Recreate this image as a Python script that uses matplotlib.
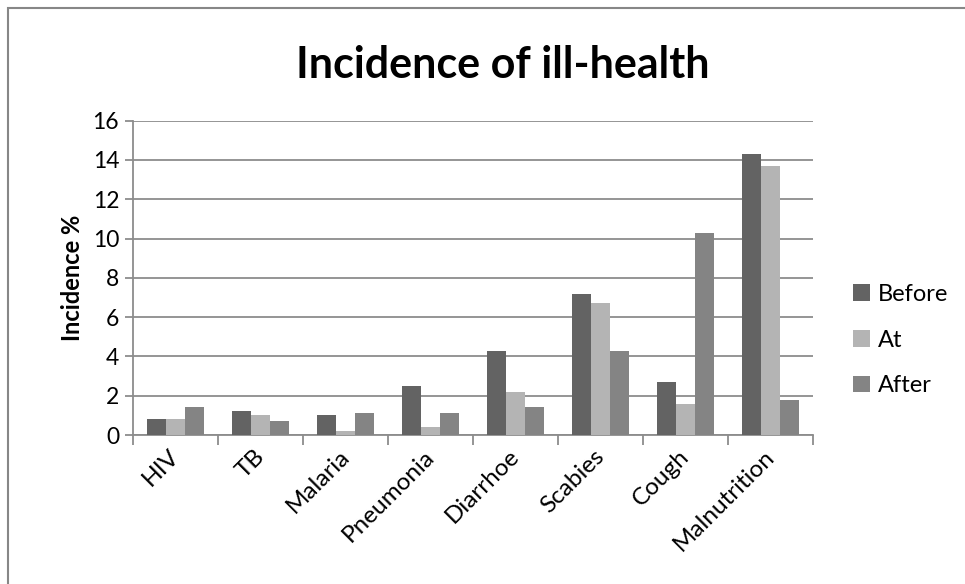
import numpy as np
import matplotlib.pyplot as plt
from matplotlib.patches import Rectangle

categories = ['HIV', 'TB', 'Malaria', 'Pneumonia', 'Diarrhoe', 'Scabies', 'Cough', 'Malnutrition']
before = [0.8, 1.2, 1.0, 2.5, 4.3, 7.2, 2.7, 14.3]
at = [0.8, 1.0, 0.2, 0.4, 2.2, 6.7, 1.6, 13.7]
after = [1.4, 0.7, 1.1, 1.1, 1.4, 4.3, 10.3, 1.8]
series_names = ['Before', 'At', 'After']
colors = ['#636363', '#b4b4b4', '#848484']

plt.rcParams['font.family'] = ['Lato', 'DejaVu Sans']

W, H = 965, 584
fig = plt.figure(figsize=(W / 100, H / 100), dpi=100)

# outer chart border (runs off the right/bottom edge)
fig.patches.append(Rectangle((8 / W, -0.1), 1.2, (H - 8) / H + 0.1,
                             transform=fig.transFigure, fill=False,
                             edgecolor='#878787', linewidth=1.5))

ax = fig.add_axes([133 / W, (H - 435) / H, (813 - 133) / W, (435 - 120.6) / H])

x = np.arange(len(categories))
w = 0.224
for k, vals in enumerate([before, at, after]):
    ax.bar(x + (k - 1) * w, vals, width=w, color=colors[k],
           label=series_names[k], zorder=3)

ax.set_xlim(-0.5, len(categories) - 0.5)
ax.set_ylim(0, 16)
ax.set_yticks(range(0, 17, 2))
ax.yaxis.grid(True, color='#8c8c8c', linewidth=1.3, zorder=0)

for s in ['top', 'right']:
    ax.spines[s].set_visible(False)
for s in ['left', 'bottom']:
    ax.spines[s].set_color('#8c8c8c')
    ax.spines[s].set_linewidth(1.3)

# category boundary ticks on the x axis
ax.set_xticks(np.arange(len(categories) + 1) - 0.5, minor=False)
ax.set_xticklabels([])
ax.tick_params(axis='x', length=7, width=1.3, color='#8c8c8c')
ax.tick_params(axis='y', length=6, width=1.3, color='#8c8c8c', labelsize=16.5, pad=4)

for i, name in enumerate(categories):
    ax.text(i - 0.08, -0.55, name, rotation=45, ha='right', va='top',
            rotation_mode='anchor', fontsize=17.5,
            transform=ax.transData)

ax.set_ylabel('Incidence %', fontsize=17, fontweight='bold', labelpad=6)

fig.text(503 / W, (H - 65) / H, 'Incidence of ill-health', ha='center', va='center',
         fontsize=31, fontweight='bold')

ax.legend(loc='center left', bbox_to_anchor=(832 / W, (H - 340) / H),
          bbox_transform=fig.transFigure, frameon=False, fontsize=17,
          handlelength=0.7, handleheight=0.7, handletextpad=0.35,
          labelspacing=1.05)

fig.savefig('out.png', dpi=100)
